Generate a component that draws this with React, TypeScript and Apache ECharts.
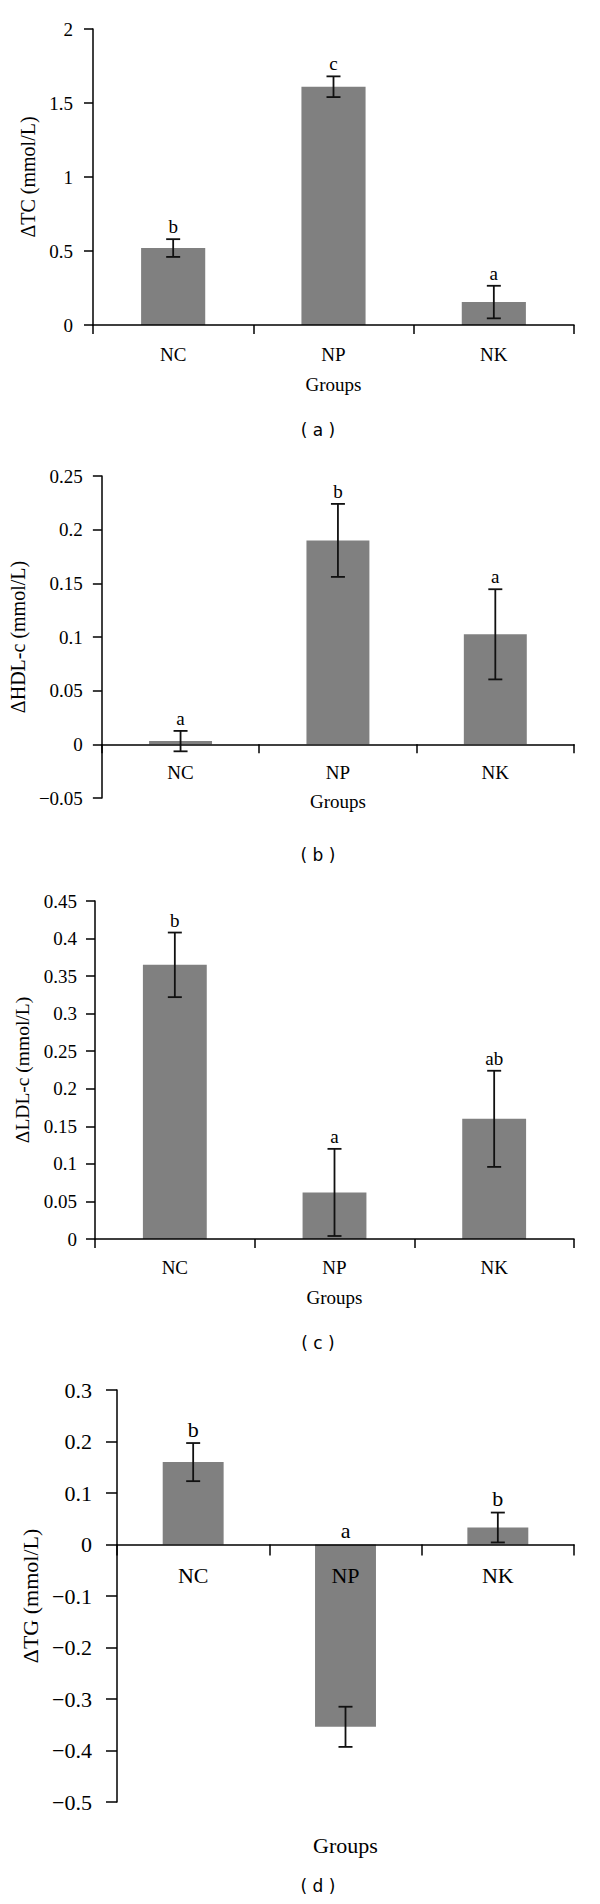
import React, { useEffect, useRef } from 'react';
import * as echarts from 'echarts';

const categories = ['NC', 'NP', 'NK'];

const tcValues = [0.52, 1.61, 0.155];
const tcErrors = [0.06, 0.07, 0.11];
const tcLetters = ['b', 'c', 'a'];

const hdlValues = [0.003, 0.19, 0.1025];
const hdlErrors = [0.0095, 0.034, 0.042];
const hdlLetters = ['a', 'b', 'a'];

const ldlValues = [0.365, 0.062, 0.16];
const ldlErrors = [0.043, 0.058, 0.064];
const ldlLetters = ['b', 'a', 'ab'];

const tgValues = [0.16, -0.354, 0.033];
const tgErrors = [0.037, 0.039, 0.029];
const tgLetters = ['b', 'a', 'b'];

const yNames = ['ΔTC (mmol/L)', 'ΔHDL-c (mmol/L)', 'ΔLDL-c (mmol/L)', 'ΔTG (mmol/L)'];
const captions = ['( a )', '( b )', '( c )', '( d )'];
const xName = 'Groups';

// [min, max, interval]
const yRangeTC = [0, 2, 0.5];
const yRangeHDL = [-0.05, 0.25, 0.05];
const yRangeLDL = [0, 0.45, 0.05];
const yRangeTG = [-0.5, 0.3, 0.1];

const SERIF = 'Liberation Serif';
const SANS = 'DejaVu Sans';

const panels = [
  { values: tcValues, errors: tcErrors, letters: tcLetters, range: yRangeTC },
  { values: hdlValues, errors: hdlErrors, letters: hdlLetters, range: yRangeHDL },
  { values: ldlValues, errors: ldlErrors, letters: ldlLetters, range: yRangeLDL },
  { values: tgValues, errors: tgErrors, letters: tgLetters, range: yRangeTG },
];

const layout = [
  { left: 93, top: 29, width: 481, height: 296, font: 19, nameFont: 20, yMargin: 20, yNameGap: 51, tick: 9, xMargin: 20, xNameGap: 50, caption: 430, groupsY: 0 },
  { left: 101, top: 476, width: 473, height: 322, font: 19, nameFont: 20, yMargin: 19, yNameGap: 59, tick: 9, xMargin: 19, xNameGap: 48, caption: 855, groupsY: 0 },
  { left: 95, top: 901, width: 479, height: 338, font: 19, nameFont: 19.5, yMargin: 18, yNameGap: 53, tick: 9, xMargin: 19, xNameGap: 49, caption: 1343, groupsY: 0 },
  { left: 117, top: 1390, width: 457, height: 412, font: 22, nameFont: 22, yMargin: 25, yNameGap: 74, tick: 11, xMargin: 20, xNameGap: 0, caption: 1886, groupsY: 1845 },
];

function fmt(v: number) {
  const r = Number(v.toFixed(3));
  if (r < 0) return '\u2212' + String(Math.abs(r));
  return String(r);
}

export default function App() {
  const ref = useRef<HTMLDivElement>(null);

  useEffect(() => {
    if (!ref.current) return;
    const chart = echarts.init(ref.current, undefined, { renderer: 'svg' });

    const grid: any[] = [];
    const xAxis: any[] = [];
    const yAxis: any[] = [];
    const series: any[] = [];
    const graphic: any[] = [];

    panels.forEach((p, i) => {
      const L = layout[i];
      grid.push({ left: L.left, top: L.top, width: L.width, height: L.height, containLabel: false });
      const last = i === 3;
      // lift the category axis (line, ticks, labels, name) up to the zero line
      const zeroOffset = -((0 - p.range[0]) / (p.range[1] - p.range[0])) * L.height;
      xAxis.push({
        type: 'category',
        gridIndex: i,
        z: 10,
        data: categories,
        boundaryGap: true,
        position: 'bottom',
        offset: zeroOffset,
        name: last ? '' : xName,
        nameLocation: 'middle',
        nameGap: L.xNameGap,
        nameTextStyle: { fontFamily: SERIF, fontSize: L.font, color: '#000' },
        axisLine: { show: true, onZero: false, lineStyle: { color: '#000', width: 1.5 } },
        axisTick: { show: true, length: L.tick, inside: false, lineStyle: { color: '#000', width: 1.5 } },
        axisLabel: { fontFamily: SERIF, fontSize: L.font, color: '#000', margin: L.xMargin },
        splitLine: { show: false },
      });
      yAxis.push({
        type: 'value',
        gridIndex: i,
        z: 10,
        min: p.range[0],
        max: p.range[1],
        interval: p.range[2],
        name: yNames[i],
        nameLocation: 'middle',
        nameGap: L.yNameGap,
        nameTextStyle: { fontFamily: SERIF, fontSize: L.nameFont, color: '#000' },
        axisLine: { show: true, onZero: false, lineStyle: { color: '#000', width: 1.5 } },
        axisTick: { show: true, length: L.tick, inside: false, lineStyle: { color: '#000', width: 1.5 } },
        axisLabel: { fontFamily: SERIF, fontSize: L.font, color: '#000', margin: L.yMargin, formatter: (v: number) => fmt(v) },
        splitLine: { show: false },
      });
      series.push({
        type: 'bar',
        xAxisIndex: i,
        yAxisIndex: i,
        data: p.values,
        barWidth: '40%',
        itemStyle: { color: '#808080' },
        z: 2,
      });
      const letters = p.letters;
      const font = L.font;
      series.push({
        type: 'custom',
        xAxisIndex: i,
        yAxisIndex: i,
        data: p.values.map((v, k) => [k, v, p.errors[k]]),
        encode: { x: 0, y: 1 },
        z: 12,
        renderItem: (params: any, api: any) => {
          const k = api.value(0);
          const v = api.value(1);
          const e = api.value(2);
          const hi = api.coord([k, v + e]);
          const lo = api.coord([k, v - e]);
          const topVal = Math.max(v + e, 0);
          const tp = api.coord([k, topVal]);
          const half = 7;
          const st = { stroke: '#111', lineWidth: 1.8 };
          return {
            type: 'group',
            children: [
              { type: 'line', shape: { x1: hi[0], y1: hi[1], x2: lo[0], y2: lo[1] }, style: st },
              { type: 'line', shape: { x1: hi[0] - half, y1: hi[1], x2: hi[0] + half, y2: hi[1] }, style: st },
              { type: 'line', shape: { x1: lo[0] - half, y1: lo[1], x2: lo[0] + half, y2: lo[1] }, style: st },
              {
                type: 'text',
                x: tp[0],
                y: tp[1] - 3,
                style: {
                  text: letters[params.dataIndex],
                  align: 'center',
                  verticalAlign: 'bottom',
                  fontFamily: SERIF,
                  fontSize: font,
                  fill: '#000',
                },
              },
            ],
          };
        },
      });
      graphic.push({
        type: 'text',
        x: 318,
        y: L.caption,
        style: { text: captions[i], align: 'center', verticalAlign: 'middle', fontFamily: SANS, fontSize: 17, fill: '#000' },
      });
      if (last) {
        graphic.push({
          type: 'text',
          x: L.left + L.width / 2,
          y: L.groupsY,
          style: { text: xName, align: 'center', verticalAlign: 'middle', fontFamily: SERIF, fontSize: L.font, fill: '#000' },
        });
      }
    });

    chart.setOption({
      animation: false,
      backgroundColor: '#fff',
      textStyle: { fontFamily: SERIF },
      grid,
      xAxis,
      yAxis,
      series,
      graphic,
    });

    return () => chart.dispose();
  }, []);

  return (
    <div
      ref={ref}
      style={{ position: 'absolute', left: 0, top: 0, width: 600, height: 1904, background: '#fff' }}
    />
  );
}
